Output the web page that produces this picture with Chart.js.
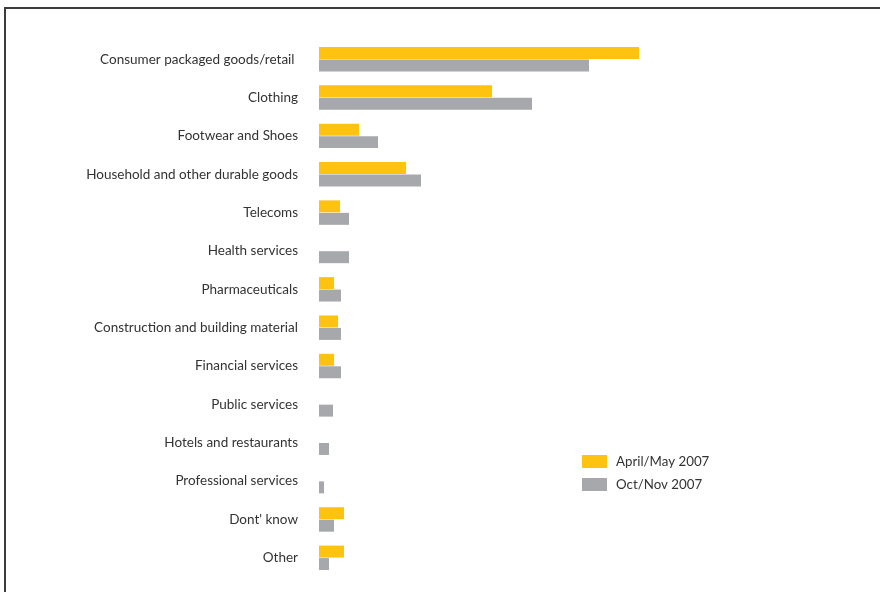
<!DOCTYPE html>
<html>
<head>
<meta charset="utf-8">
<script src="https://cdn.jsdelivr.net/npm/chart.js@4/dist/chart.umd.min.js"></script>
<style>
    html, body { margin: 0; padding: 0; background: #fff; }
    #wrap { position: relative; width: 880px; height: 592px; overflow: hidden; }
    #frame {
        position: absolute; left: 4px; top: 7px; right: -10px; bottom: -10px;
        border-top: 2px solid #3c3c3c; border-left: 2px solid #3c3c3c;
    }
    #grafica { position: absolute; left: 0; top: 0; }
</style>
</head>
<body>
<div id="wrap">
    <div id="frame"></div>
    <canvas id="grafica" width="880" height="592"></canvas>
</div>
<script>
// Sectors surveyed (share of respondents, %)
const sectores = [
    "Consumer packaged goods/retail ",
    "Clothing",
    "Footwear and Shoes",
    "Household and other durable goods",
    "Telecoms",
    "Health services",
    "Pharmaceuticals",
    "Construction and building material",
    "Financial services",
    "Public services",
    "Hotels and restaurants",
    "Professional services",
    "Dont' know",
    "Other"
];
const abrilMayo2007 = [64, 34.6, 8, 17.4, 4.2, 0, 3, 3.8, 3, 0, 0, 0, 5, 5];
const octNov2007 = [54, 42.6, 11.8, 20.4, 6, 6, 4.4, 4.4, 4.4, 2.8, 2, 1, 3, 2];
const etiquetasSerie = ["April/May 2007", "Oct/Nov 2007"];

const FUENTE = "Lato, 'Noto Sans', sans-serif";

// Legend drawn in the lower right of the plot
const leyendaPlugin = {
    id: 'leyendaLateral',
    afterDraw(chart) {
        const ctx = chart.ctx;
        ctx.save();
        ctx.font = "13.3px " + FUENTE;
        ctx.textBaseline = 'middle';
        chart.data.datasets.forEach((ds, i) => {
            const y = 455 + i * 23;
            ctx.fillStyle = ds.backgroundColor;
            ctx.fillRect(582, y, 25, 13);
            ctx.fillStyle = '#333';
            ctx.fillText(ds.label, 616, y + 7);
        });
        ctx.restore();
    }
};

new Chart(document.getElementById('grafica'), {
    type: 'bar',
    data: {
        labels: sectores,
        datasets: [
            {
                label: etiquetasSerie[0],
                data: abrilMayo2007,
                backgroundColor: '#fec210',
                categoryPercentage: 0.65,
                barPercentage: 0.96
            },
            {
                label: etiquetasSerie[1],
                data: octNov2007,
                backgroundColor: '#a7a8ab',
                categoryPercentage: 0.65,
                barPercentage: 0.96
            }
        ]
    },
    options: {
        indexAxis: 'y',
        responsive: false,
        animation: false,
        layout: { padding: { top: 40, bottom: 15, left: 0, right: 11 } },
        plugins: {
            legend: { display: false },
            tooltip: { enabled: false }
        },
        scales: {
            x: {
                display: false,
                min: 0,
                max: 110
            },
            y: {
                grid: { display: false, drawTicks: false },
                border: { display: false },
                ticks: {
                    padding: 21,
                    color: '#333',
                    font: { family: FUENTE, size: 13.5 },
                    autoSkip: false
                },
                afterFit(scale) {
                    // fixed label column; tick padding should not eat vertical space
                    scale.width = 319;
                    scale.paddingTop = 0;
                    scale.paddingBottom = 0;
                }
            }
        }
    },
    plugins: [leyendaPlugin]
});
</script>
</body>
</html>
